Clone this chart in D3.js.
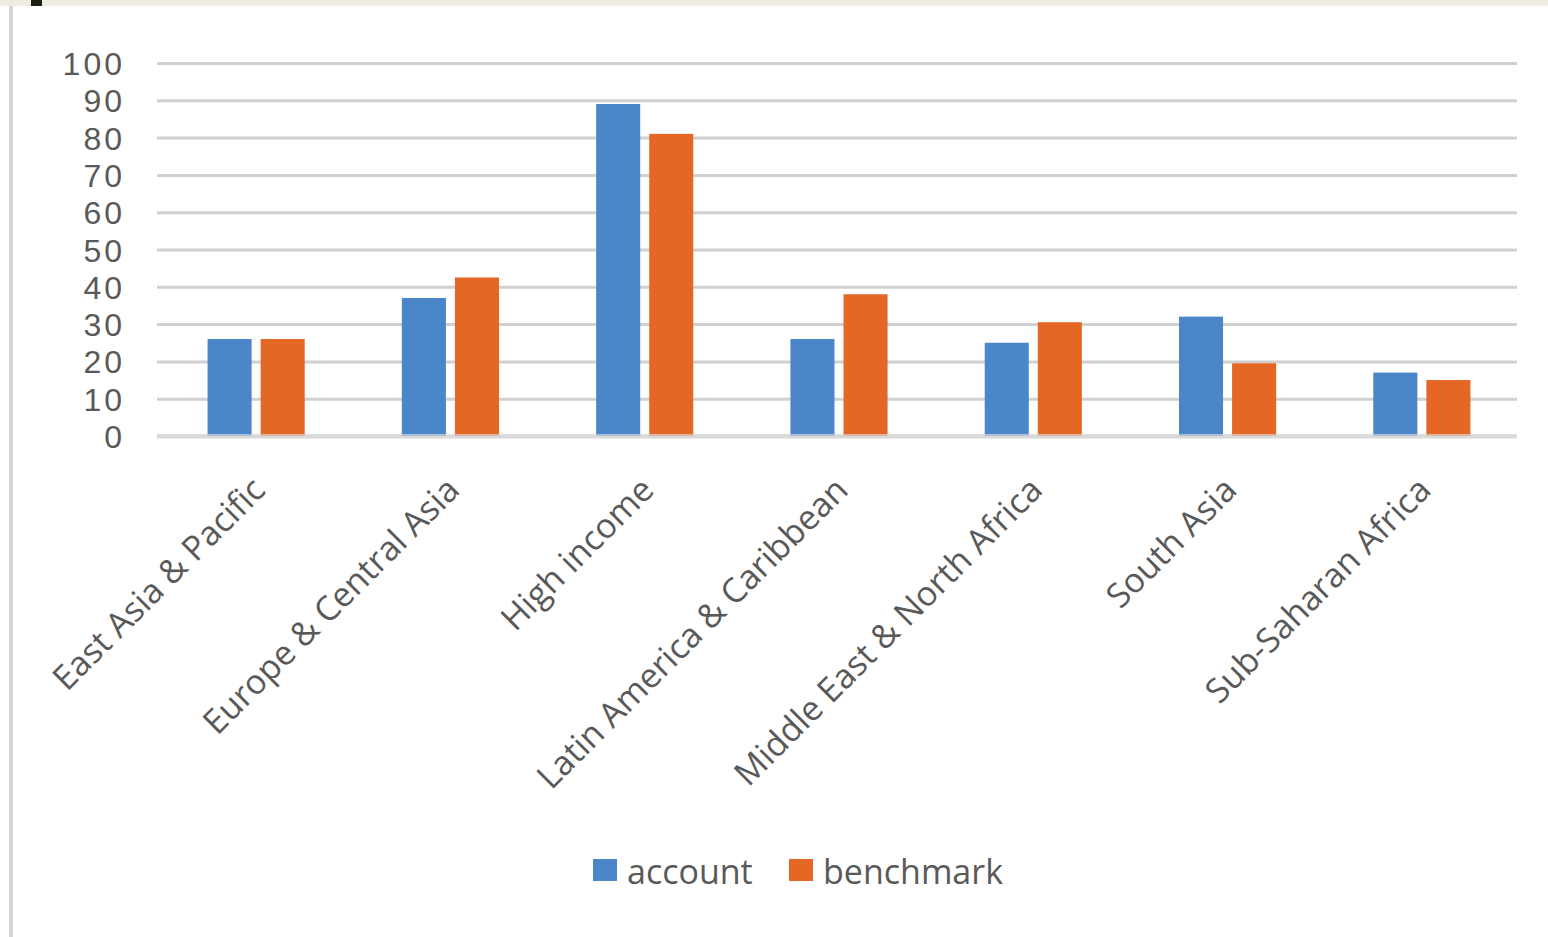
<!DOCTYPE html>
<html><head><meta charset="utf-8">
<script src="https://cdn.jsdelivr.net/npm/d3@7"></script>
<style>html,body{margin:0;padding:0;background:#fff;overflow:hidden}</style>
</head><body>
<svg id="chart" width="1548" height="937"></svg>
<script>
const categories = ["East Asia & Pacific","Europe & Central Asia","High income","Latin America & Caribbean","Middle East & North Africa","South Asia","Sub-Saharan Africa"];
const seriesNames = ["account","benchmark"];
const account = [26, 37, 89, 26, 25, 32, 17];
const benchmark = [26, 42.5, 81, 38, 30.5, 19.5, 15];
const yTicks = [0,10,20,30,40,50,60,70,80,90,100];
const colors = {account:"#4a86c8", benchmark:"#e46726"};

const data = categories.map((c,i)=>({cat:c, account:account[i], benchmark:benchmark[i]}));
const svg = d3.select("#chart");
const font = "'Open Sans', 'Noto Sans', sans-serif";

// frame decorations
svg.append("rect").attr("x",0).attr("y",0).attr("width",1548).attr("height",6).attr("fill","#eeebe3");
svg.append("rect").attr("x",31).attr("y",0).attr("width",11).attr("height",6).attr("fill","#1e1e14");
svg.append("rect").attr("x",9).attr("y",6).attr("width",4).attr("height",931).attr("fill","#d4d4d4");

const x0 = d3.scaleBand().domain(categories).range([159,1519]).paddingInner(0.5).paddingOuter(0.25);
const x1 = d3.scaleBand().domain(seriesNames).range([0,x0.bandwidth()]).paddingInner(0.17).paddingOuter(0);
const y = d3.scaleLinear().domain([0,100]).range([436,63]);

// gridlines
const yAxis = d3.axisLeft(y).tickValues(yTicks).tickSize(-(1517-157)).tickFormat(d3.format("d"));
const gy = svg.append("g").attr("transform","translate(157,0)").call(yAxis);
gy.select(".domain").remove();
gy.selectAll(".tick line").attr("stroke", d=> d===0 ? "#d9d9d9" : "#d0d0d0").attr("stroke-width", d=> d===0?4:3);
gy.selectAll(".tick text").attr("x",-32).attr("dy","0.36em")
  .attr("font-family","'Liberation Sans', Arial, sans-serif").attr("font-size",32)
  .attr("letter-spacing",3).attr("fill","#595959");

// bars
const groups = svg.append("g").selectAll("g").data(data).join("g")
  .attr("transform", d=>`translate(${x0(d.cat)},0)`);
groups.selectAll("rect").data(d=>seriesNames.map(k=>({key:k, value:d[k]}))).join("rect")
  .attr("x", d=>x1(d.key)).attr("width", x1.bandwidth())
  .attr("y", d=>y(d.value)).attr("height", d=>y(0)-y(d.value))
  .attr("fill", d=>colors[d.key]);

// baseline over bars (light)
svg.append("line").attr("x1",157).attr("x2",1517).attr("y1",y(0)).attr("y2",y(0))
  .attr("stroke","#d9d9d9").attr("stroke-width",4).attr("opacity",0.7);

// x axis labels
const xAxis = d3.axisBottom(x0).tickSize(0).tickPadding(0);
const gx = svg.append("g").attr("transform",`translate(0,${y(0)})`).call(xAxis);
gx.select(".domain").remove();
gx.selectAll(".tick text")
  .attr("font-family",font).attr("font-size",34).attr("fill","#595959")
  .attr("text-anchor","end").attr("dy",0).attr("y",0)
  .attr("transform","translate(11,56) rotate(-45)");

// legend
const legend = svg.append("g");
const lx = [593, 789];
seriesNames.forEach((k,i)=>{
  legend.append("rect").attr("x",lx[i]).attr("y",859).attr("width",24).attr("height",22).attr("fill",colors[k]);
  legend.append("text").attr("x",lx[i]+34).attr("y",884).attr("font-family",font).attr("font-size",34).attr("fill","#595959").text(k);
});
</script>
</body></html>
